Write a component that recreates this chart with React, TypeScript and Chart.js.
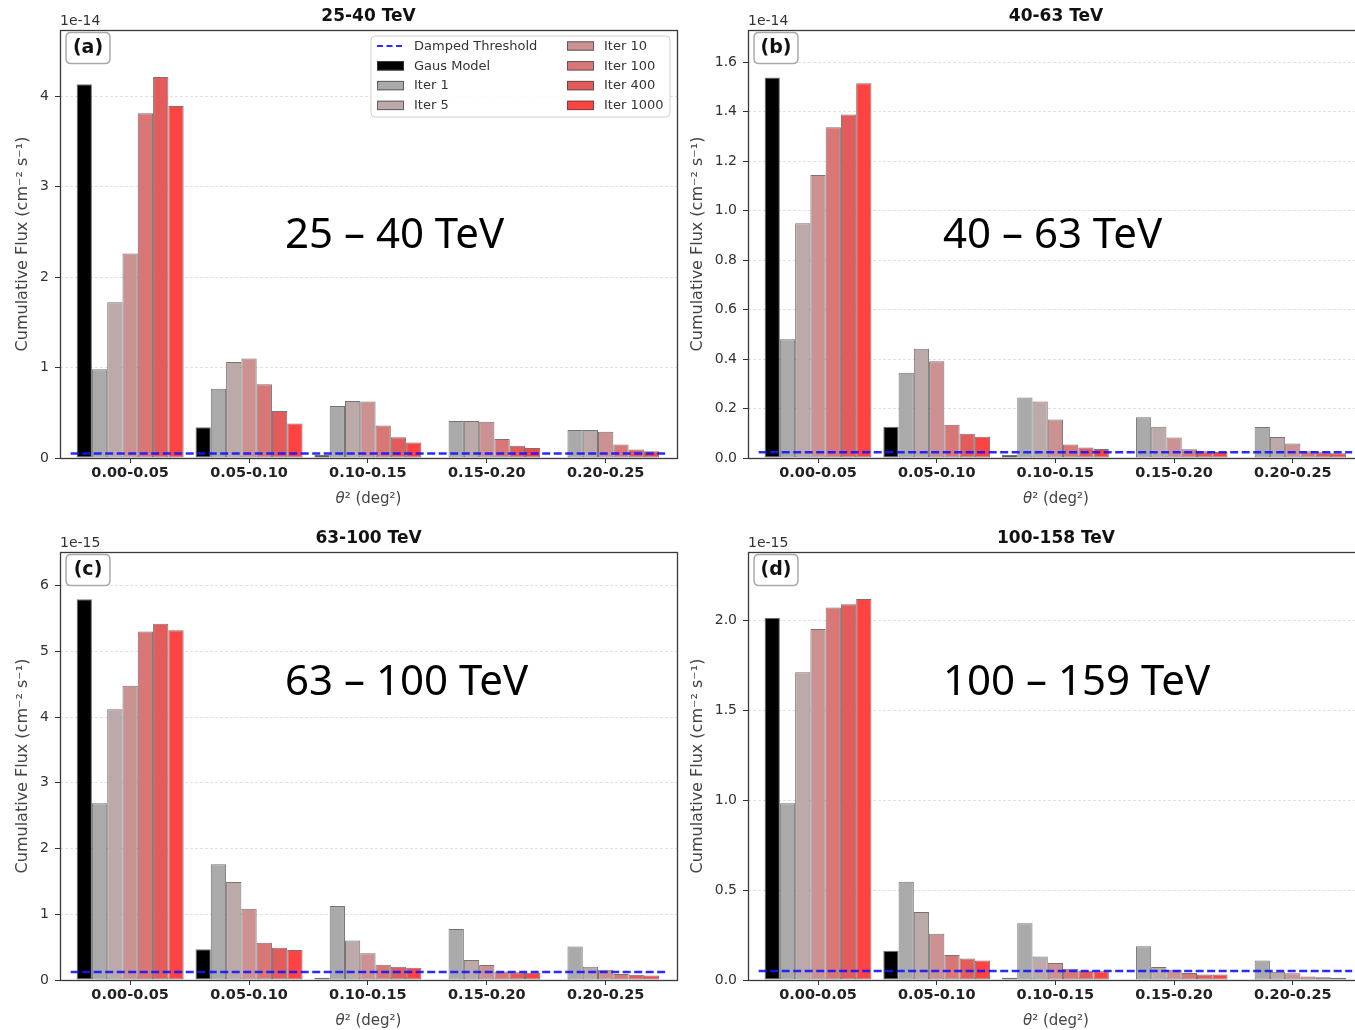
import React, { useEffect, useRef } from "react";
import { Chart, registerables } from "chart.js";

Chart.register(...registerables);

// ---------------- data ----------------
const categories = ["0.00-0.05", "0.05-0.10", "0.10-0.15", "0.15-0.20", "0.20-0.25"];
const seriesNames = ["Gaus Model", "Iter 1", "Iter 5", "Iter 10", "Iter 100", "Iter 400", "Iter 1000"];
const seriesColors = ["#000000", "#aaaaaa", "#bcaaaa", "#cc9292", "#d97777", "#e35b5b", "#ff4343"];
const thresholdLabel = "Damped Threshold";

// rows: Gaus Model, Iter 1, Iter 5, Iter 10, Iter 100, Iter 400, Iter 1000 (units of the axis exponent)
const fluxA: number[][] = [
  [4.13, 0.34, 0.035, 0, 0],
  [0.98, 0.765, 0.575, 0.41, 0.31],
  [1.72, 1.06, 0.63, 0.41, 0.31],
  [2.26, 1.1, 0.625, 0.4, 0.29],
  [3.81, 0.815, 0.36, 0.21, 0.15],
  [4.21, 0.52, 0.23, 0.135, 0.095],
  [3.89, 0.38, 0.17, 0.11, 0.075],
];
const fluxB: number[][] = [
  [1.538, 0.126, 0.012, 0, 0],
  [0.48, 0.345, 0.245, 0.165, 0.125],
  [0.949, 0.442, 0.228, 0.126, 0.085],
  [1.144, 0.391, 0.156, 0.083, 0.059],
  [1.337, 0.134, 0.055, 0.035, 0.027],
  [1.388, 0.098, 0.042, 0.027, 0.023],
  [1.515, 0.086, 0.036, 0.024, 0.019],
];
const fluxC: number[][] = [
  [5.79, 0.466, 0.035, 0, 0],
  [2.69, 1.76, 1.125, 0.775, 0.51],
  [4.12, 1.49, 0.6, 0.304, 0.203],
  [4.475, 1.085, 0.405, 0.228, 0.157],
  [5.3, 0.568, 0.233, 0.13, 0.09],
  [5.42, 0.49, 0.203, 0.117, 0.08],
  [5.32, 0.456, 0.188, 0.11, 0.07],
];
const fluxD: number[][] = [
  [2.015, 0.163, 0.013, 0, 0],
  [0.983, 0.546, 0.315, 0.187, 0.109],
  [1.711, 0.378, 0.131, 0.072, 0.046],
  [1.952, 0.257, 0.094, 0.057, 0.037],
  [2.072, 0.139, 0.063, 0.039, 0.02],
  [2.089, 0.119, 0.052, 0.031, 0.015],
  [2.119, 0.109, 0.048, 0.03, 0.013],
];
const thresholds = [0.05, 0.023, 0.12, 0.05];
const titles = ["25-40 TeV", "40-63 TeV", "63-100 TeV", "100-158 TeV"];
const overlays = ["25 – 40 TeV", "40 – 63 TeV", "63 – 100 TeV", "100 – 159 TeV"];
const panelTags = ["(a)", "(b)", "(c)", "(d)"];
const exponents = ["1e-14", "1e-14", "1e-15", "1e-15"];
const yTicksA = [0, 1, 2, 3, 4];
const yTicksB = [0, 0.2, 0.4, 0.6, 0.8, 1.0, 1.2, 1.4, 1.6];
const yTicksC = [0, 1, 2, 3, 4, 5, 6];
const yTicksD = [0, 0.5, 1.0, 1.5, 2.0];
const yMaxes = [4.73, 1.73, 6.51, 2.38];
const yDecimals = [0, 1, 0, 1];
const yLabel = "Cumulative Flux (cm⁻² s⁻¹)";

// ---------------- layout ----------------
type Layout = {
  left: number; top: number; w: number; h: number;
  aL: number; aT: number; aR: number; aB: number;
  yLabelDx: number; overlayDx: number; overlayDy: number;
};
const layouts: Layout[] = [
  { left: 0, top: 0, w: 680, h: 520, aL: 60, aT: 30, aR: 677, aB: 458, yLabelDx: 37, overlayDx: 225, overlayDy: 218 },
  { left: 680, top: 0, w: 690, h: 520, aL: 68, aT: 30, aR: 684, aB: 458, yLabelDx: 50, overlayDx: 195, overlayDy: 218 },
  { left: 0, top: 520, w: 680, h: 510, aL: 60, aT: 32, aR: 677, aB: 460, yLabelDx: 37, overlayDx: 225, overlayDy: 143 },
  { left: 680, top: 520, w: 690, h: 510, aL: 68, aT: 32, aR: 684, aB: 460, yLabelDx: 50, overlayDx: 195, overlayDy: 143 },
];

const FONT = "'DejaVu Sans', 'Liberation Sans', sans-serif";
const THR_COLOR = "rgba(20,20,255,0.9)";

function roundRect(ctx: CanvasRenderingContext2D, x: number, y: number, w: number, h: number, r: number) {
  ctx.beginPath();
  ctx.moveTo(x + r, y);
  ctx.lineTo(x + w - r, y);
  ctx.quadraticCurveTo(x + w, y, x + w, y + r);
  ctx.lineTo(x + w, y + h - r);
  ctx.quadraticCurveTo(x + w, y + h, x + w - r, y + h);
  ctx.lineTo(x + r, y + h);
  ctx.quadraticCurveTo(x, y + h, x, y + h - r);
  ctx.lineTo(x, y + r);
  ctx.quadraticCurveTo(x, y, x + r, y);
  ctx.closePath();
}

type PanelProps = { idx: number; flux: number[][]; yTicks: number[]; showLegend: boolean };

function Panel({ idx, flux, yTicks, showLegend }: PanelProps) {
  const ref = useRef<HTMLCanvasElement | null>(null);
  const L = layouts[idx];

  useEffect(() => {
    if (!ref.current) return;
    const thr = thresholds[idx];
    const datasets: any[] = [
      {
        type: "line",
        label: thresholdLabel,
        data: [{ x: -0.5, y: thr }, { x: 4.5, y: thr }],
        borderColor: THR_COLOR,
        borderWidth: 2.5,
        borderDash: [8, 3.5],
        pointRadius: 0,
        fill: false,
        order: 0,
      },
      ...seriesNames.map((name, k) => ({
        type: "bar",
        label: name,
        data: flux[k].map((v, i) => ({ x: i, y: v })),
        backgroundColor: seriesColors[k],
        borderColor: "rgba(70,70,70,0.75)",
        borderWidth: 1,
        borderSkipped: false,
        categoryPercentage: 0.9,
        barPercentage: 1.0,
        order: 1,
      })),
    ];

    const overlayPlugin = {
      id: "panelDecor" + idx,
      afterDraw(chart: any) {
        const ctx: CanvasRenderingContext2D = chart.ctx;
        const ca = chart.chartArea;
        const cx = (ca.left + ca.right) / 2;
        ctx.save();
        // frame
        ctx.strokeStyle = "#3a3a3a";
        ctx.lineWidth = 1.3;
        ctx.setLineDash([]);
        ctx.strokeRect(Math.round(ca.left) + 0.5, Math.round(ca.top) + 0.5, Math.round(ca.width), Math.round(ca.height));

        // title
        ctx.fillStyle = "#111";
        ctx.font = `bold 17px ${FONT}`;
        ctx.textAlign = "center";
        ctx.textBaseline = "alphabetic";
        ctx.fillText(titles[idx], cx, ca.top - 9);

        // exponent text
        ctx.fillStyle = "#333";
        ctx.font = `14px ${FONT}`;
        ctx.textAlign = "left";
        ctx.fillText(exponents[idx], ca.left, ca.top - 5);

        // y label
        ctx.save();
        ctx.translate(ca.left - L.yLabelDx, (ca.top + ca.bottom) / 2);
        ctx.rotate(-Math.PI / 2);
        ctx.fillStyle = "#444";
        ctx.font = `16px ${FONT}`;
        ctx.textAlign = "center";
        ctx.textBaseline = "middle";
        ctx.fillText(yLabel, 0, 0);
        ctx.restore();

        // x label: italic theta + rest
        ctx.fillStyle = "#444";
        ctx.textBaseline = "alphabetic";
        ctx.textAlign = "left";
        const part1 = "θ";
        const part2 = "² (deg²)";
        ctx.font = `italic 15px ${FONT}`;
        const w1 = ctx.measureText(part1).width;
        ctx.font = `15px ${FONT}`;
        const w2 = ctx.measureText(part2).width;
        const xs = cx - (w1 + w2) / 2;
        ctx.font = `italic 15px ${FONT}`;
        ctx.fillText(part1, xs, ca.bottom + 45);
        ctx.font = `15px ${FONT}`;
        ctx.fillText(part2, xs + w1, ca.bottom + 45);

        // panel tag box
        roundRect(ctx, ca.left + 6, ca.top + 2.5, 44, 31, 5);
        ctx.fillStyle = "#ffffff";
        ctx.fill();
        ctx.strokeStyle = "#aaaaaa";
        ctx.lineWidth = 1.5;
        ctx.stroke();
        ctx.fillStyle = "#111";
        ctx.font = `bold 19px ${FONT}`;
        ctx.textAlign = "center";
        ctx.textBaseline = "middle";
        ctx.fillText(panelTags[idx], ca.left + 28, ca.top + 18.5);

        // legend
        if (showLegend) {
          const bx = ca.left + 311, by = ca.top + 6, bw = 299, bh = 81;
          roundRect(ctx, bx, by, bw, bh, 4);
          ctx.fillStyle = "rgba(255,255,255,0.85)";
          ctx.fill();
          ctx.strokeStyle = "#d0d0d0";
          ctx.lineWidth = 1;
          ctx.stroke();
          const ds = chart.data.datasets;
          ctx.font = `13px ${FONT}`;
          ctx.textBaseline = "middle";
          ctx.textAlign = "left";
          for (let i = 0; i < ds.length; i++) {
            const col = Math.floor(i / 4);
            const row = i % 4;
            const sx = ca.left + (col === 0 ? 317 : 507);
            const tx = ca.left + (col === 0 ? 354 : 544);
            const yy = ca.top + 16 + row * 19.8;
            if (ds[i].type === "line") {
              ctx.strokeStyle = ds[i].borderColor;
              ctx.lineWidth = 2.2;
              ctx.setLineDash([6, 3.5]);
              ctx.beginPath();
              ctx.moveTo(sx, yy);
              ctx.lineTo(sx + 27, yy);
              ctx.stroke();
              ctx.setLineDash([]);
            } else {
              ctx.fillStyle = ds[i].backgroundColor;
              ctx.fillRect(sx, yy - 4.7, 27, 9.4);
              ctx.strokeStyle = "rgba(70,70,70,0.75)";
              ctx.lineWidth = 1;
              ctx.strokeRect(sx + 0.5, yy - 4.7 + 0.5, 26, 8.4);
            }
            ctx.fillStyle = "#333";
            ctx.fillText(ds[i].label, tx, yy + 0.5);
          }
        }

        // pasted overlay text
        ctx.fillStyle = "#000";
        ctx.font = `42px 'Noto Sans', 'Open Sans', sans-serif`;
        ctx.textAlign = "left";
        ctx.textBaseline = "alphabetic";
        ctx.fillText(overlays[idx], ca.left + L.overlayDx, ca.top + L.overlayDy);
        ctx.restore();
      },
    };

    const dec = yDecimals[idx];
    const chart = new Chart(ref.current, {
      type: "bar",
      data: { datasets },
      options: {
        animation: false,
        responsive: false,
        maintainAspectRatio: false,
        layout: { padding: { left: 0, top: L.aT, right: L.w - L.aR, bottom: 0 } },
        plugins: {
          legend: { display: false },
          tooltip: { enabled: false },
          title: { display: false },
        },
        scales: {
          x: {
            type: "linear",
            min: -0.59,
            max: 4.6,
            offset: false,
            afterBuildTicks: (s: any) => {
              s.ticks = categories.map((_, i) => ({ value: i }));
            },
            afterFit: (s: any) => {
              s.height = L.h - L.aB;
            },
            ticks: {
              callback: (v: any) => categories[Math.round(Number(v))] ?? "",
              font: { family: FONT, size: 14.5, weight: "bold" },
              color: "#222",
              maxRotation: 0,
              autoSkip: false,
              padding: 2,
            },
            grid: {
              offset: false,
              drawOnChartArea: false,
              color: "#333",
              tickColor: "#333",
              tickLength: 5,
              tickWidth: 1,
            },
            border: { display: false },
          },
          y: {
            type: "linear",
            min: 0,
            max: yMaxes[idx],
            afterBuildTicks: (s: any) => {
              s.ticks = yTicks.map((v) => ({ value: v }));
            },
            afterFit: (s: any) => {
              s.width = L.aL;
            },
            ticks: {
              callback: (v: any) => Number(v).toFixed(dec),
              font: { family: FONT, size: 14 },
              color: "#333",
              padding: 6,
            },
            grid: {
              color: "rgba(0,0,0,0.12)",
              lineWidth: 1,
              tickColor: "#333",
              tickLength: 5,
              tickWidth: 1,
              tickBorderDash: [],
            },
            border: { display: false, dash: [3, 2] },
          },
        },
      } as any,
      plugins: [overlayPlugin],
    });
    return () => chart.destroy();
  }, [idx, flux, yTicks, showLegend]);

  return (
    <canvas
      ref={ref}
      width={L.w}
      height={L.h}
      style={{ position: "absolute", left: L.left, top: L.top, width: L.w, height: L.h }}
    />
  );
}

export default function App() {
  return (
    <div
      style={{
        position: "absolute",
        left: 0,
        top: 0,
        width: 1355,
        height: 1030,
        overflow: "hidden",
        background: "#ffffff",
      }}
    >
      <Panel idx={0} flux={fluxA} yTicks={yTicksA} showLegend={true} />
      <Panel idx={1} flux={fluxB} yTicks={yTicksB} showLegend={false} />
      <Panel idx={2} flux={fluxC} yTicks={yTicksC} showLegend={false} />
      <Panel idx={3} flux={fluxD} yTicks={yTicksD} showLegend={false} />
    </div>
  );
}
